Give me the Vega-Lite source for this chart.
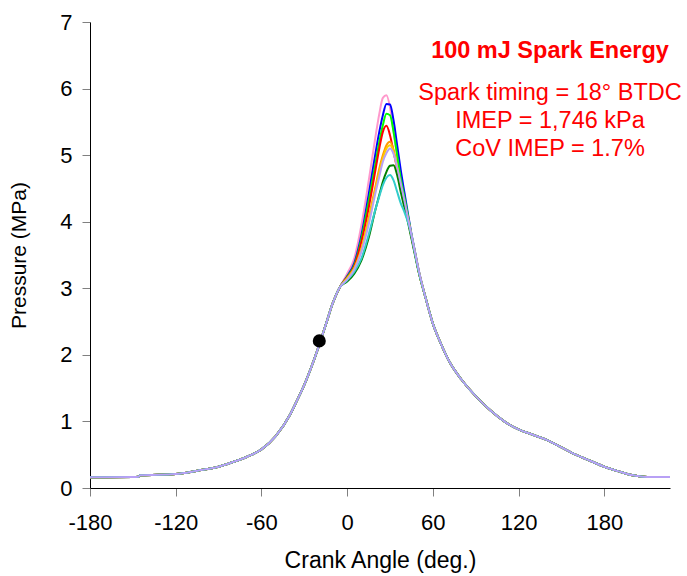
{
  "$schema": "https://vega.github.io/schema/vega-lite/v6.json",
  "autosize": "none",
  "padding": {"left": 90, "top": 22, "right": 17, "bottom": 88},
  "width": 580,
  "height": 466,
  "background": "white",
  "config": {
    "view": {"stroke": null},
    "font": "Liberation Sans",
    "axis": {
      "grid": false,
      "domainColor": "#000000",
      "domainWidth": 1,
      "tickColor": "#808080",
      "tickSize": 8,
      "labelFlush": false,
      "labelFont": "Liberation Sans",
      "labelFontSize": 22,
      "labelColor": "#000000",
      "titleFont": "Liberation Sans",
      "titleFontWeight": "normal",
      "titleColor": "#000000"
    }
  },
  "datasets": {
    "curves": [
      {"a": -180, "pink": 0.16, "blue": 0.16, "green": 0.16, "red": 0.16, "orange": 0.16, "yellow": 0.16, "dkgreen": 0.16, "cyan": 0.16, "lavender": 0.16},
      {"a": -150, "pink": 0.165, "blue": 0.165, "green": 0.165, "red": 0.165, "orange": 0.165, "yellow": 0.165, "dkgreen": 0.165, "cyan": 0.165, "lavender": 0.165},
      {"a": -146, "pink": 0.17, "blue": 0.17, "green": 0.17, "red": 0.17, "orange": 0.17, "yellow": 0.17, "dkgreen": 0.17, "cyan": 0.17, "lavender": 0.17},
      {"a": -145, "pink": 0.19, "blue": 0.19, "green": 0.19, "red": 0.19, "orange": 0.19, "yellow": 0.19, "dkgreen": 0.19, "cyan": 0.19, "lavender": 0.19},
      {"a": -120, "pink": 0.21, "blue": 0.21, "green": 0.21, "red": 0.21, "orange": 0.21, "yellow": 0.21, "dkgreen": 0.21, "cyan": 0.21, "lavender": 0.21},
      {"a": -105, "pink": 0.26, "blue": 0.26, "green": 0.26, "red": 0.26, "orange": 0.26, "yellow": 0.26, "dkgreen": 0.26, "cyan": 0.26, "lavender": 0.26},
      {"a": -90, "pink": 0.32, "blue": 0.32, "green": 0.32, "red": 0.32, "orange": 0.32, "yellow": 0.32, "dkgreen": 0.32, "cyan": 0.32, "lavender": 0.32},
      {"a": -80, "pink": 0.39, "blue": 0.39, "green": 0.39, "red": 0.39, "orange": 0.39, "yellow": 0.39, "dkgreen": 0.39, "cyan": 0.39, "lavender": 0.39},
      {"a": -70, "pink": 0.47, "blue": 0.47, "green": 0.47, "red": 0.47, "orange": 0.47, "yellow": 0.47, "dkgreen": 0.47, "cyan": 0.47, "lavender": 0.47},
      {"a": -60, "pink": 0.58, "blue": 0.58, "green": 0.58, "red": 0.58, "orange": 0.58, "yellow": 0.58, "dkgreen": 0.58, "cyan": 0.58, "lavender": 0.58},
      {"a": -50, "pink": 0.78, "blue": 0.78, "green": 0.78, "red": 0.78, "orange": 0.78, "yellow": 0.78, "dkgreen": 0.78, "cyan": 0.78, "lavender": 0.78},
      {"a": -40, "pink": 1.10, "blue": 1.10, "green": 1.10, "red": 1.10, "orange": 1.10, "yellow": 1.10, "dkgreen": 1.10, "cyan": 1.10, "lavender": 1.10},
      {"a": -35, "pink": 1.32, "blue": 1.32, "green": 1.32, "red": 1.32, "orange": 1.32, "yellow": 1.32, "dkgreen": 1.32, "cyan": 1.32, "lavender": 1.32},
      {"a": -30, "pink": 1.55, "blue": 1.55, "green": 1.55, "red": 1.55, "orange": 1.55, "yellow": 1.55, "dkgreen": 1.55, "cyan": 1.55, "lavender": 1.55},
      {"a": -25, "pink": 1.82, "blue": 1.82, "green": 1.82, "red": 1.82, "orange": 1.82, "yellow": 1.82, "dkgreen": 1.82, "cyan": 1.82, "lavender": 1.82},
      {"a": -20, "pink": 2.12, "blue": 2.12, "green": 2.12, "red": 2.12, "orange": 2.12, "yellow": 2.12, "dkgreen": 2.12, "cyan": 2.12, "lavender": 2.12},
      {"a": -15, "pink": 2.45, "blue": 2.45, "green": 2.45, "red": 2.45, "orange": 2.45, "yellow": 2.45, "dkgreen": 2.45, "cyan": 2.45, "lavender": 2.45},
      {"a": -10, "pink": 2.78, "blue": 2.78, "green": 2.78, "red": 2.78, "orange": 2.78, "yellow": 2.78, "dkgreen": 2.78, "cyan": 2.78, "lavender": 2.78},
      {"a": -5, "pink": 3.02, "blue": 3.02, "green": 3.02, "red": 3.02, "orange": 3.02, "yellow": 3.02, "dkgreen": 3.02, "cyan": 3.02, "lavender": 3.02},
      {"a": 0, "pink": 3.22, "blue": 3.18, "green": 3.17, "red": 3.16, "orange": 3.15, "yellow": 3.15, "dkgreen": 3.10, "cyan": 3.12, "lavender": 3.13},
      {"a": 5, "pink": 3.45, "blue": 3.38, "green": 3.35, "red": 3.33, "orange": 3.30, "yellow": 3.30, "dkgreen": 3.22, "cyan": 3.25, "lavender": 3.28},
      {"a": 10, "pink": 3.95, "blue": 3.80, "green": 3.75, "red": 3.70, "orange": 3.60, "yellow": 3.58, "dkgreen": 3.42, "cyan": 3.45, "lavender": 3.55},
      {"a": 15, "pink": 4.60, "blue": 4.40, "green": 4.30, "red": 4.20, "orange": 4.05, "yellow": 4.02, "dkgreen": 3.75, "cyan": 3.80, "lavender": 3.95},
      {"a": 20, "pink": 5.30, "blue": 5.05, "green": 4.90, "red": 4.80, "orange": 4.55, "yellow": 4.50, "dkgreen": 4.20, "cyan": 4.20, "lavender": 4.45},
      {"a": 22.5, "pink": 5.62, "blue": 5.35, "green": 5.20, "red": 5.10, "orange": 4.80, "yellow": 4.75, "dkgreen": 4.40, "cyan": 4.38, "lavender": 4.68},
      {"a": 25, "pink": 5.86, "blue": 5.60, "green": 5.45, "red": 5.35, "orange": 5.00, "yellow": 4.95, "dkgreen": 4.60, "cyan": 4.55, "lavender": 4.90},
      {"a": 27.5, "pink": 5.90, "blue": 5.77, "green": 5.62, "red": 5.44, "orange": 5.15, "yellow": 5.10, "dkgreen": 4.75, "cyan": 4.66, "lavender": 5.03},
      {"a": 30, "pink": 5.72, "blue": 5.76, "green": 5.60, "red": 5.30, "orange": 5.20, "yellow": 5.15, "dkgreen": 4.84, "cyan": 4.70, "lavender": 5.10},
      {"a": 32.5, "pink": 5.35, "blue": 5.52, "green": 5.35, "red": 5.05, "orange": 5.08, "yellow": 5.05, "dkgreen": 4.85, "cyan": 4.62, "lavender": 5.02},
      {"a": 35, "pink": 4.98, "blue": 5.15, "green": 5.00, "red": 4.80, "orange": 4.82, "yellow": 4.80, "dkgreen": 4.70, "cyan": 4.45, "lavender": 4.82},
      {"a": 37.5, "pink": 4.62, "blue": 4.78, "green": 4.65, "red": 4.55, "orange": 4.55, "yellow": 4.52, "dkgreen": 4.45, "cyan": 4.28, "lavender": 4.58},
      {"a": 40, "pink": 4.32, "blue": 4.45, "green": 4.38, "red": 4.30, "orange": 4.30, "yellow": 4.28, "dkgreen": 4.22, "cyan": 4.15, "lavender": 4.33},
      {"a": 42.5, "pink": 4.05, "blue": 4.13, "green": 4.10, "red": 4.04, "orange": 4.05, "yellow": 4.03, "dkgreen": 4.00, "cyan": 4.00, "lavender": 4.06},
      {"a": 45, "pink": 3.78, "blue": 3.82, "green": 3.80, "red": 3.78, "orange": 3.80, "yellow": 3.78, "dkgreen": 3.75, "cyan": 3.80, "lavender": 3.80},
      {"a": 47.5, "pink": 3.52, "blue": 3.55, "green": 3.54, "red": 3.52, "orange": 3.53, "yellow": 3.52, "dkgreen": 3.50, "cyan": 3.52, "lavender": 3.54},
      {"a": 50, "pink": 3.26, "blue": 3.28, "green": 3.27, "red": 3.26, "orange": 3.27, "yellow": 3.26, "dkgreen": 3.25, "cyan": 3.26, "lavender": 3.28},
      {"a": 55, "pink": 2.85, "blue": 2.85, "green": 2.85, "red": 2.85, "orange": 2.85, "yellow": 2.85, "dkgreen": 2.85, "cyan": 2.85, "lavender": 2.85},
      {"a": 60, "pink": 2.47, "blue": 2.47, "green": 2.47, "red": 2.47, "orange": 2.47, "yellow": 2.47, "dkgreen": 2.47, "cyan": 2.47, "lavender": 2.47},
      {"a": 65, "pink": 2.20, "blue": 2.20, "green": 2.20, "red": 2.20, "orange": 2.20, "yellow": 2.20, "dkgreen": 2.20, "cyan": 2.20, "lavender": 2.20},
      {"a": 72, "pink": 1.88, "blue": 1.88, "green": 1.88, "red": 1.88, "orange": 1.88, "yellow": 1.88, "dkgreen": 1.88, "cyan": 1.88, "lavender": 1.88},
      {"a": 80, "pink": 1.63, "blue": 1.63, "green": 1.63, "red": 1.63, "orange": 1.63, "yellow": 1.63, "dkgreen": 1.63, "cyan": 1.63, "lavender": 1.63},
      {"a": 90, "pink": 1.38, "blue": 1.38, "green": 1.38, "red": 1.38, "orange": 1.38, "yellow": 1.38, "dkgreen": 1.38, "cyan": 1.38, "lavender": 1.38},
      {"a": 100, "pink": 1.17, "blue": 1.17, "green": 1.17, "red": 1.17, "orange": 1.17, "yellow": 1.17, "dkgreen": 1.17, "cyan": 1.17, "lavender": 1.17},
      {"a": 110, "pink": 1.00, "blue": 1.00, "green": 1.00, "red": 1.00, "orange": 1.00, "yellow": 1.00, "dkgreen": 1.00, "cyan": 1.00, "lavender": 1.00},
      {"a": 120, "pink": 0.88, "blue": 0.88, "green": 0.88, "red": 0.88, "orange": 0.88, "yellow": 0.88, "dkgreen": 0.88, "cyan": 0.88, "lavender": 0.88},
      {"a": 130, "pink": 0.80, "blue": 0.80, "green": 0.80, "red": 0.80, "orange": 0.80, "yellow": 0.80, "dkgreen": 0.80, "cyan": 0.80, "lavender": 0.80},
      {"a": 140, "pink": 0.72, "blue": 0.72, "green": 0.72, "red": 0.72, "orange": 0.72, "yellow": 0.72, "dkgreen": 0.72, "cyan": 0.72, "lavender": 0.72},
      {"a": 150, "pink": 0.61, "blue": 0.61, "green": 0.61, "red": 0.61, "orange": 0.61, "yellow": 0.61, "dkgreen": 0.61, "cyan": 0.61, "lavender": 0.61},
      {"a": 160, "pink": 0.50, "blue": 0.50, "green": 0.50, "red": 0.50, "orange": 0.50, "yellow": 0.50, "dkgreen": 0.50, "cyan": 0.50, "lavender": 0.50},
      {"a": 170, "pink": 0.41, "blue": 0.41, "green": 0.41, "red": 0.41, "orange": 0.41, "yellow": 0.41, "dkgreen": 0.41, "cyan": 0.41, "lavender": 0.41},
      {"a": 180, "pink": 0.32, "blue": 0.32, "green": 0.32, "red": 0.32, "orange": 0.32, "yellow": 0.32, "dkgreen": 0.32, "cyan": 0.32, "lavender": 0.32},
      {"a": 190, "pink": 0.25, "blue": 0.25, "green": 0.25, "red": 0.25, "orange": 0.25, "yellow": 0.25, "dkgreen": 0.25, "cyan": 0.25, "lavender": 0.25},
      {"a": 200, "pink": 0.19, "blue": 0.19, "green": 0.19, "red": 0.19, "orange": 0.19, "yellow": 0.19, "dkgreen": 0.19, "cyan": 0.19, "lavender": 0.19},
      {"a": 210, "pink": 0.165, "blue": 0.165, "green": 0.165, "red": 0.165, "orange": 0.165, "yellow": 0.165, "dkgreen": 0.165, "cyan": 0.165, "lavender": 0.165},
      {"a": 226, "pink": 0.165, "blue": 0.165, "green": 0.165, "red": 0.165, "orange": 0.165, "yellow": 0.165, "dkgreen": 0.165, "cyan": 0.165, "lavender": 0.165}
    ],
    "heading": [
      {"x": 142, "y": 6.56, "label": "100 mJ Spark Energy"}
    ],
    "notes": [
      {"x": 142, "y": 5.93, "label": "Spark timing = 18° BTDC"},
      {"x": 142, "y": 5.51, "label": "IMEP = 1,746 kPa"},
      {"x": 142, "y": 5.09, "label": "CoV IMEP = 1.7%"}
    ],
    "spark": [
      {"x": -19.5, "y": 2.21}
    ]
  },
  "layer": [
    {
      "data": {"name": "curves"},
      "transform": [
        {"fold": ["pink", "blue", "green", "red", "orange", "yellow", "dkgreen", "cyan", "lavender"], "as": ["series", "p"]}
      ],
      "mark": {"type": "line", "strokeWidth": 2, "interpolate": "monotone", "clip": true},
      "encoding": {
        "x": {
          "field": "a", "type": "quantitative",
          "scale": {"domain": [-180, 226], "nice": false, "zero": false},
          "axis": {"values": [-180, -120, -60, 0, 60, 120, 180], "labelExpr": "datum.value + ''", "title": "Crank Angle (deg.)", "titleFontSize": 23, "labelPadding": 16, "titlePadding": 16}
        },
        "y": {
          "field": "p", "type": "quantitative",
          "scale": {"domain": [0, 7], "nice": false},
          "axis": {"values": [0, 1, 2, 3, 4, 5, 6, 7], "labelExpr": "datum.value + ''", "title": "Pressure (MPa)", "titleFontSize": 21, "labelPadding": 10, "titlePadding": 30}
        },
        "color": {
          "field": "series", "type": "nominal",
          "scale": {
            "domain": ["pink", "blue", "green", "red", "orange", "yellow", "dkgreen", "cyan", "lavender"],
            "range": ["#FF99CC", "#0000FF", "#00FF00", "#FF0000", "#FF9900", "#FFCC00", "#008000", "#33CCCC", "#B8A0F5"]
          },
          "legend": null
        },
        "order": {"field": "a", "type": "quantitative"}
      }
    },
    {
      "data": {"name": "spark"},
      "mark": {"type": "point", "filled": true, "size": 170, "color": "#000000", "opacity": 1},
      "encoding": {
        "x": {"field": "x", "type": "quantitative"},
        "y": {"field": "y", "type": "quantitative"}
      }
    },
    {
      "data": {"name": "heading"},
      "mark": {"type": "text", "align": "center", "baseline": "middle", "color": "#FF0000", "fontSize": 23.5, "fontWeight": "bold", "font": "Liberation Sans"},
      "encoding": {
        "x": {"field": "x", "type": "quantitative"},
        "y": {"field": "y", "type": "quantitative"},
        "text": {"field": "label", "type": "nominal"}
      }
    },
    {
      "data": {"name": "notes"},
      "mark": {"type": "text", "align": "center", "baseline": "middle", "color": "#FF0000", "fontSize": 23.5, "font": "Liberation Sans"},
      "encoding": {
        "x": {"field": "x", "type": "quantitative"},
        "y": {"field": "y", "type": "quantitative"},
        "text": {"field": "label", "type": "nominal"}
      }
    }
  ]
}
